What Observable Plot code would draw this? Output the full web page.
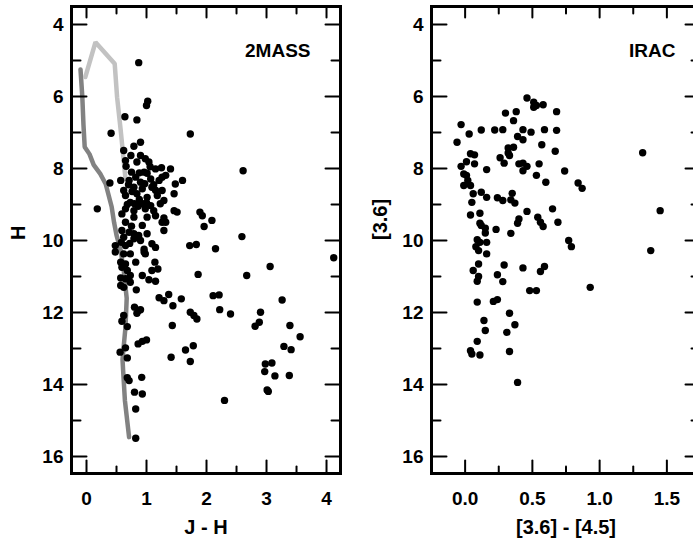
<!DOCTYPE html>
<html>
<head>
<meta charset="utf-8">
<script src="https://cdn.jsdelivr.net/npm/d3@7"></script>
<script src="https://cdn.jsdelivr.net/npm/@observablehq/plot@0.6"></script>
<style>
  html, body { margin: 0; padding: 0; background: #fff; }
  #wrap { position: relative; width: 693px; height: 542px; overflow: hidden; background: #fff; }
  #wrap > svg { position: absolute; top: 0; }
</style>
</head>
<body>
<div id="wrap"></div>
<script>
// ---- Data ----
const panelTitles = ["2MASS", "IRAC"];
const xTitles = ["J - H", "[3.6] - [4.5]"];
const yTitles = ["H", "[3.6]"];

const yMajor = [4, 6, 8, 10, 12, 14, 16];
const yMinor = [5, 7, 9, 11, 13, 15];
const jhMajor = [0, 1, 2, 3, 4];
const jhMinor = [0.5, 1.5, 2.5, 3.5];
const iracMajor = [0, 0.5, 1.0, 1.5];
const iracMinor = [0.25, 0.75, 1.25, 1.75];

// 2MASS colour-magnitude points: [J-H, H]
const jhPoints = [
  [0.87,5.06],[1.02,6.13],[1.0,6.25],[0.64,6.56],[0.84,6.65],[0.41,7.02],[1.73,7.04],
  [0.79,7.38],[0.9,7.27],[2.61,8.06],[0.18,9.12],[0.39,8.40],
  [1.89,9.21],[1.93,9.31],[2.09,9.44],[1.96,9.61],[2.59,9.89],[1.72,10.14],[1.83,10.11],[2.15,10.23],
  [0.62,7.5],[0.74,7.64],[0.9,7.64],[0.98,7.73],[1.04,7.82],[0.65,7.78],[0.84,7.82],[0.66,7.94],
  [1.15,8.01],[1.25,7.98],[1.4,8.01],[0.96,8.1],[1.01,8.13],[1.32,8.19],[0.57,8.33],[0.71,8.33],
  [0.82,8.24],[0.9,8.38],[1.07,8.29],[1.21,8.33],[1.48,8.43],[1.6,8.33],[0.62,8.61],[0.79,8.52],
  [0.93,8.56],[1.09,8.52],[1.26,8.61],[1.46,8.7],[0.65,8.75],[0.84,8.7],[1.01,8.8],[1.18,8.75],
  [1.29,8.89],[0.73,8.94],[0.93,8.98],[1.07,9.03],[1.23,8.98],[0.65,9.12],[0.79,9.17],[0.98,9.12],
  [1.12,9.17],[0.59,9.26],[0.79,9.35],[1.01,9.35],[1.15,9.31],[1.29,9.37],[1.46,9.17],[1.51,9.21],
  [0.7,8.45],[0.76,8.64],[0.88,8.86],[1.15,8.6],[0.68,9.0],[1.0,8.95],[0.86,9.05],[1.26,8.24],
  [0.75,8.1],[0.88,8.12],[1.12,8.45],[0.97,8.42],[0.8,8.98],[1.06,7.95],
  [0.65,9.49],[0.93,9.58],[1.26,9.49],[1.29,9.72],[0.59,9.72],[0.71,9.77],[0.79,9.81],[0.87,9.86],
  [1.01,9.81],[0.62,9.91],[0.79,9.95],[0.9,10.0],[1.09,10.09],[1.15,10.19],[0.48,10.14],[0.65,10.14],
  [0.48,10.32],[0.62,10.37],[0.73,10.37],[0.96,10.32],[0.98,10.37],[0.57,10.6],[0.65,10.65],[0.82,10.6],
  [1.14,10.6],[0.59,10.74],[0.68,10.83],[1.09,10.83],[1.19,10.79],[0.73,10.97],[0.93,10.97],[1.04,11.09],
  [1.15,11.13],[0.57,11.04],[0.65,11.06],[0.73,11.16],[0.57,11.25],[0.62,11.3],[0.83,11.37],
  [0.58,10.05],[0.72,10.08],[0.96,10.24],[1.32,9.49],[0.75,9.6],
  [1.86,10.94],[2.67,10.97],[3.06,10.72],[4.12,10.48],
  [1.21,11.59],[1.29,11.67],[1.37,11.5],[1.44,11.81],[1.58,11.62],[1.73,11.99],[1.79,12.08],[1.84,12.18],
  [1.43,12.36],[0.86,12.87],[0.93,12.8],[1.0,12.76],[0.56,13.1],[0.65,12.98],[0.68,13.26],[1.41,13.24],
  [1.65,13.04],[1.78,12.92],[1.73,13.36],[0.68,13.81],[0.71,13.89],[0.92,13.8],[0.8,14.21],[0.93,14.26],
  [0.82,14.68],[0.82,15.49],[0.8,11.85],[0.87,11.94],[0.9,11.92],[0.84,12.02],[0.62,12.08],[0.59,12.24],
  [0.68,12.39],
  [2.11,11.53],[2.21,11.51],[2.22,11.92],[2.4,12.04],[3.26,11.65],[2.9,11.99],[2.81,12.38],[2.88,12.27],
  [3.39,12.36],[3.56,12.67],[3.29,12.94],[3.41,13.03],[2.98,13.43],[3.09,13.4],[2.97,13.64],[3.14,13.76],
  [3.38,13.75],[3.01,14.15],[3.03,14.19],[2.3,14.44]
];

// IRAC colour-magnitude points: [[3.6]-[4.5], [3.6]]
const iracPoints = [
  [0.46,6.04],[0.51,6.16],[0.51,6.3],[0.53,6.25],[0.58,6.23],[0.68,6.42],[0.3,6.46],[0.38,6.42],
  [0.36,6.67],[-0.03,6.78],[0.03,7.04],[-0.06,7.27],[0.12,6.93],[0.22,6.93],[0.28,6.92],[0.43,6.92],
  [0.49,6.99],[0.59,6.92],[0.68,6.94],[0.39,7.11],[0.43,7.2],[0.57,7.34],[0.36,7.41],[0.32,7.43],
  [0.32,7.57],[0.33,7.64],[0.26,7.7],[0.67,7.52],[0.04,7.59],[0.07,7.62],[0.01,7.81],[0.07,7.87],
  [-0.03,7.94],[-0.01,8.15],[0.01,8.19],[0.16,8.03],[0.29,7.85],[0.4,7.87],[0.43,7.85],[0.46,7.94],
  [0.43,8.06],[0.55,7.87],[0.53,8.19],[0.6,8.38],[0.74,8.07],[0.84,8.4],[0.87,8.55],[1.32,7.56],
  [1.45,9.17],[0.02,8.33],[0.04,8.47],[-0.01,8.47],[0.06,8.7],[0.12,8.66],[0.16,8.8],[0.05,8.94],
  [0.24,8.81],[0.28,8.89],[0.34,8.87],[0.37,8.96],[0.35,8.69],[0.46,9.19],[0.04,9.29],[0.11,9.24],
  [0.11,9.52],[0.12,9.58],[0.15,9.66],[0.15,9.79],[0.23,9.69],[0.34,9.8],[0.4,9.4],[0.39,9.52],
  [0.54,9.35],[0.56,9.49],[0.58,9.61],[0.65,9.12],[0.69,9.49],[0.09,9.98],[0.11,10.05],[0.16,10.05],
  [0.77,10.0],[0.79,10.17],[1.38,10.28],[0.08,10.17],[0.1,10.28],[0.16,10.37],[0.1,10.65],[0.06,10.83],
  [0.1,11.0],[0.09,11.13],[0.29,10.68],[0.24,10.95],[0.28,11.14],[0.43,10.76],[0.59,10.72],[0.56,10.86],
  [0.93,11.3],[0.48,11.39],[0.53,11.39],[0.09,11.71],[0.21,11.69],[0.24,11.64],[0.33,12.02],[0.14,12.22],
  [0.37,12.34],[0.15,12.5],[0.31,12.55],[0.09,12.8],[0.33,13.08],[0.04,13.06],[0.05,13.15],[0.11,13.18],
  [0.39,13.94]
];

// Isochrones (2MASS panel)
const isoDark = [
  [-0.10,5.25],[-0.07,6.0],[-0.05,6.8],[-0.03,7.4],[0.05,7.6],[0.12,7.9],[0.23,8.15],[0.32,8.43],
  [0.37,8.75],[0.42,9.07],[0.46,9.5],[0.5,9.85],[0.57,10.28],[0.62,10.83],[0.67,11.6],[0.65,12.4],
  [0.6,13.3],[0.61,13.6],[0.64,14.44],[0.71,15.46]
];
const isoLight = [
  [-0.02,5.46],[0.15,4.49],[0.47,5.09],[0.51,6.02],[0.57,6.94],[0.61,7.6],[0.65,8.3]
];

// ---- Drawing ----
const FONT = "'Liberation Sans', Arial, Helvetica, sans-serif";
const PW = 346, PH = 542, ML = 71, MR = 6, MT = 6, MB = 69;
const FW = PW - ML - MR, FH = PH - MT - MB; // frame size in px
const Y_DOMAIN = [3.5, 16.47];

// Inward ticks on all four sides, built as short line segments (length in px -> data units)
function tickSegments(xDomain, xMaj, xMin) {
  const kx = FW / (xDomain[1] - xDomain[0]);
  const ky = FH / (Y_DOMAIN[1] - Y_DOMAIN[0]);
  const [x0, x1] = xDomain, [yTop, yBot] = Y_DOMAIN;
  const segs = [];
  let id = 0;
  const add = (a, b) => { segs.push({x: a[0], y: a[1], id}, {x: b[0], y: b[1], id}); id++; };
  xMaj.forEach(x => { add([x, yBot], [x, yBot - 13 / ky]); add([x, yTop], [x, yTop + 11 / ky]); });
  xMin.forEach(x => { add([x, yBot], [x, yBot - 7 / ky]); add([x, yTop], [x, yTop + 7 / ky]); });
  yMajor.forEach(y => { add([x0, y], [x0 + 15 / kx, y]); add([x1, y], [x1 - 15 / kx, y]); });
  yMinor.forEach(y => { add([x0, y], [x0 + 9 / kx, y]); add([x1, y], [x1 - 9 / kx, y]); });
  return segs;
}

function panel({xDomain, points, xMaj, xMin, xFmt, title, titleDx, xTitle, yTitle, yTitleDx, lines}) {
  return Plot.plot({
    width: PW, height: PH,
    marginLeft: ML, marginRight: MR, marginTop: MT, marginBottom: MB,
    x: {domain: xDomain, label: null},
    y: {domain: Y_DOMAIN, reverse: true, label: null},
    style: {fontFamily: FONT, fontWeight: "bold", color: "#000", background: "transparent", overflow: "visible"},
    marks: [
      ...lines,
      Plot.dot(points, {x: d => d[0], y: d => d[1], r: 3.7, fill: "#000", stroke: "none"}),
      Plot.frame({stroke: "#000", strokeWidth: 3}),
      Plot.line(tickSegments(xDomain, xMaj, xMin), {x: "x", y: "y", z: "id", stroke: "#000", strokeWidth: 2, curve: "linear"}),
      Plot.axisX(xMaj, {anchor: "bottom", tickSize: 0, tickPadding: 18, tickFormat: xFmt, fontSize: 19, fontWeight: "bold", label: null}),
      Plot.axisY(yMajor, {anchor: "left", tickSize: 0, tickPadding: 8, tickFormat: d3.format("d"), fontSize: 19, fontWeight: "bold", label: null}),
      Plot.text([title], {frameAnchor: "top-right", text: d => d, dx: titleDx, dy: 44, textAnchor: "end", lineAnchor: "middle", fontSize: 19, fontWeight: "bold"}),
      Plot.text([xTitle], {frameAnchor: "bottom", text: d => d, dy: 54, lineAnchor: "middle", fontSize: 20, fontWeight: "bold"}),
      Plot.text([yTitle], {frameAnchor: "left", text: d => d, dx: yTitleDx, rotate: -90, lineAnchor: "middle", fontSize: 20, fontWeight: "bold"})
    ]
  });
}

const leftPanel = panel({
  xDomain: [-0.25, 4.233], points: jhPoints, xMaj: jhMajor, xMin: jhMinor, xFmt: d3.format("d"),
  title: panelTitles[0], titleDx: -30, xTitle: xTitles[0], yTitle: yTitles[0], yTitleDx: -53,
  lines: [
    Plot.line(isoDark, {x: d => d[0], y: d => d[1], stroke: "#828282", strokeWidth: 4.5, strokeLinejoin: "miter", curve: "linear"}),
    Plot.line(isoLight, {x: d => d[0], y: d => d[1], stroke: "#c2c2c2", strokeWidth: 4.5, strokeLinejoin: "miter", curve: "linear"})
  ]
});
const rightPanel = panel({
  xDomain: [-0.25, 1.75], points: iracPoints, xMaj: iracMajor, xMin: iracMinor, xFmt: d3.format(".1f"),
  title: panelTitles[1], titleDx: -25, xTitle: xTitles[1], yTitle: yTitles[1], yTitleDx: -51,
  lines: []
});
leftPanel.style.left = "0px";
rightPanel.style.left = "360px";
const wrap = document.getElementById("wrap");
wrap.appendChild(leftPanel);
wrap.appendChild(rightPanel);
</script>
</body>
</html>
